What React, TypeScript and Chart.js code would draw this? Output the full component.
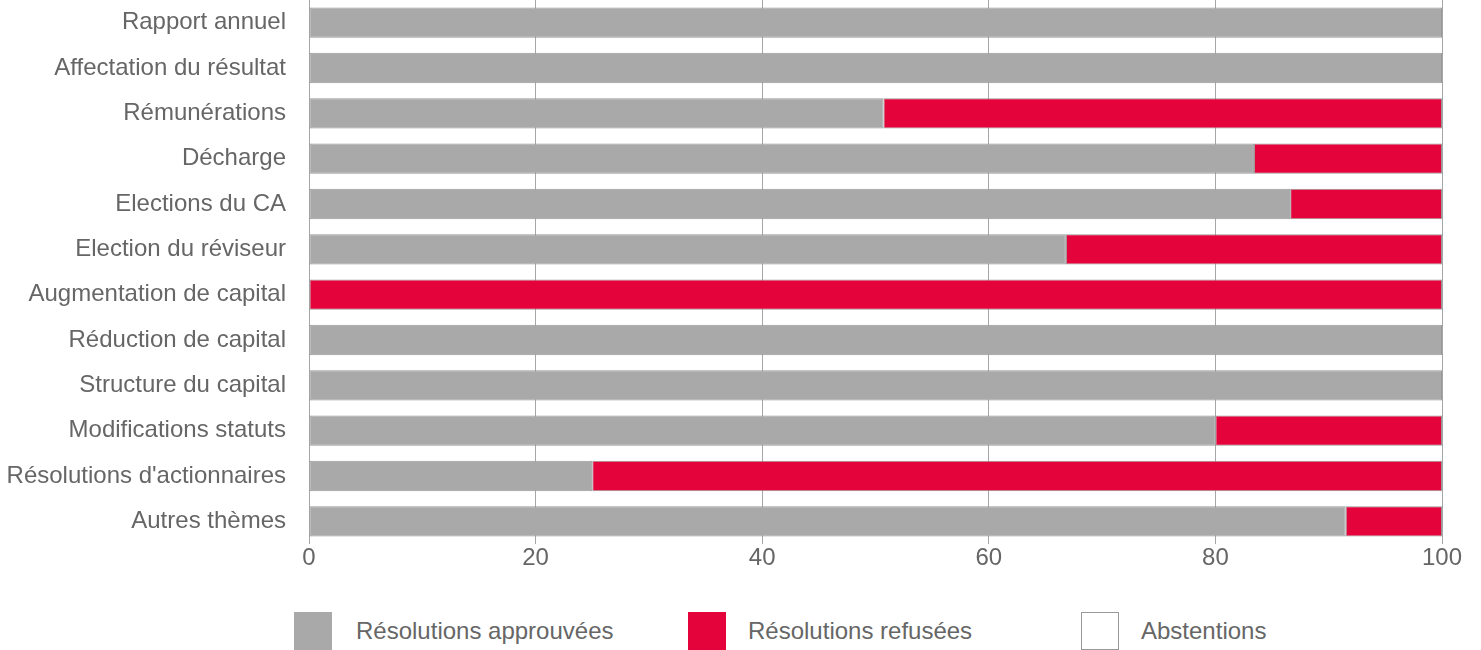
import React, { useEffect, useRef } from "react";
import { Chart, registerables } from "chart.js";

Chart.register(...registerables);

const categories = [
  "Rapport annuel",
  "Affectation du résultat",
  "Rémunérations",
  "Décharge",
  "Elections du CA",
  "Election du réviseur",
  "Augmentation de capital",
  "Réduction de capital",
  "Structure du capital",
  "Modifications statuts",
  "Résolutions d'actionnaires",
  "Autres thèmes",
];

const approved = [100, 100, 50.7, 83.4, 86.6, 66.8, 0, 100, 100, 80, 25, 91.5];
const refused = [0, 0, 49.3, 16.6, 13.4, 33.2, 100, 0, 0, 20, 75, 8.5];
const abstentions = [0, 0, 0, 0, 0, 0, 0, 0, 0, 0, 0, 0];

const seriesNames = ["Résolutions approuvées", "Résolutions refusées", "Abstentions"];
const xTicks = [0, 20, 40, 60, 80, 100];

const GRAY = "#a9a9a9";
const RED = "#e4033b";
const BORDER = "#999999";
const TEXT = "#666666";
const FONT = "'Liberation Sans', Arial, sans-serif";

const CANVAS_W = 1481;
const CANVAS_H = 600;

export default function App() {
  const ref = useRef<HTMLCanvasElement | null>(null);

  useEffect(() => {
    if (!ref.current) return;
    const chart = new Chart(ref.current, {
      type: "bar",
      data: {
        labels: categories,
        datasets: [
          {
            label: seriesNames[0],
            data: approved,
            backgroundColor: GRAY,
            borderColor: BORDER,
            borderWidth: 1,
            borderSkipped: false,
            barPercentage: 0.67,
            categoryPercentage: 1,
          },
          {
            label: seriesNames[1],
            data: refused,
            backgroundColor: RED,
            borderColor: BORDER,
            borderWidth: 1,
            borderSkipped: false,
            barPercentage: 0.67,
            categoryPercentage: 1,
          },
          {
            label: seriesNames[2],
            data: abstentions,
            backgroundColor: "#ffffff",
            borderColor: BORDER,
            borderWidth: 1,
            borderSkipped: false,
            barPercentage: 0.67,
            categoryPercentage: 1,
          },
        ],
      },
      options: {
        indexAxis: "y",
        responsive: false,
        animation: false,
        maintainAspectRatio: false,
        layout: { padding: { top: 0, right: 39, bottom: 0, left: 0 } },
        plugins: {
          legend: { display: false },
          tooltip: { enabled: false },
        },
        scales: {
          x: {
            stacked: true,
            min: 0,
            max: 100,
            z: 1,
            afterBuildTicks: (scale: any) => {
              scale.ticks = xTicks.map((v) => ({ value: v }));
            },
            afterFit: (scale: any) => {
              scale.height = CANVAS_H - 544;
              scale.paddingLeft = 0;
              scale.paddingRight = 0;
            },
            grid: {
              color: "#a6a6a6",
              lineWidth: 1,
              drawTicks: false,
            },
            border: { display: false },
            ticks: {
              padding: 0,
              color: TEXT,
              font: { family: FONT, size: 24 },
            },
          },
          y: {
            stacked: true,
            afterFit: (scale: any) => {
              scale.width = 309;
              scale.paddingTop = 0;
              scale.paddingBottom = 0;
            },
            grid: { display: false, drawTicks: false },
            border: { display: false },
            ticks: {
              padding: 23,
              color: TEXT,
              font: { family: FONT, size: 24 },
            },
          },
        },
      },
    });
    return () => chart.destroy();
  }, []);

  const legendItems = [
    { name: seriesNames[0], box: 294, text: 356, bg: GRAY, border: "none" },
    { name: seriesNames[1], box: 688, text: 748, bg: RED, border: "none" },
    { name: seriesNames[2], box: 1081, text: 1141, bg: "#ffffff", border: `1px solid ${BORDER}` },
  ];

  return (
    <div style={{ position: "absolute", left: 0, top: 0, width: CANVAS_W, height: 650, background: "#fff", overflow: "hidden" }}>
      <canvas ref={ref} width={CANVAS_W} height={CANVAS_H} style={{ position: "absolute", left: 0, top: 0, width: CANVAS_W, height: CANVAS_H }} />
      {legendItems.map((it) => (
        <React.Fragment key={it.name}>
          <div
            style={{
              position: "absolute",
              left: it.box,
              top: 612,
              width: 38,
              height: 38,
              boxSizing: "border-box",
              background: it.bg,
              border: it.border,
            }}
          />
          <div
            style={{
              position: "absolute",
              left: it.text,
              top: 612,
              height: 38,
              lineHeight: "38px",
              fontFamily: FONT,
              fontSize: 24,
              color: TEXT,
              whiteSpace: "nowrap",
            }}
          >
            {it.name}
          </div>
        </React.Fragment>
      ))}
    </div>
  );
}
